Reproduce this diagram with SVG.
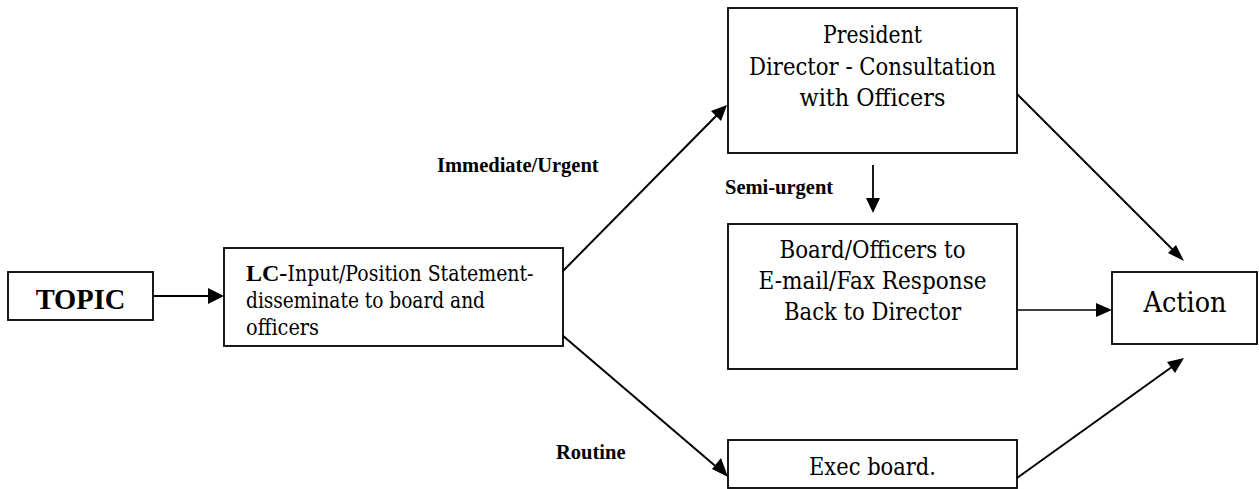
<svg xmlns="http://www.w3.org/2000/svg" width="1259" height="489" viewBox="0 0 1259 489">
<style>
.box{fill:#fff;stroke:#000;stroke-width:1.8}
.r{font-family:"DejaVu Serif","Liberation Serif",serif;fill:#000}
.n{font-size:24px;text-anchor:middle}
.b{font-family:"Liberation Serif","Times New Roman",serif;font-weight:700;fill:#000}
.lbl{font-size:20.5px}
</style>
<rect width="1259" height="489" fill="#fff"/>
<g id="connectors">
<path d="M153,296 L210,296" stroke="#000" stroke-width="1.8"/>
<path d="M208,288 L224,296 L208,304 z"/>
<path d="M562,272 L720,112" stroke="#000" stroke-width="2"/>
<path d="M727,105 L721,121 L711,111 z"/>
<path d="M562,335 L720,470" stroke="#000" stroke-width="2"/>
<path d="M728,477 L712,469 L721,458 z"/>
<path d="M873,165 L873,200" stroke="#000" stroke-width="1.8"/>
<path d="M866,198 L873,213 L880,198 z"/>
<path d="M1017,94 L1176,253" stroke="#000" stroke-width="2"/>
<path d="M1184,261 L1168,253 L1176,245 z"/>
<path d="M1017,310 L1098,310" stroke="#000" stroke-width="1.6"/>
<path d="M1096,303 L1112,310 L1096,317 z"/>
<path d="M1017,478 L1176,364" stroke="#000" stroke-width="2"/>
<path d="M1184,358 L1175,373 L1167,362 z"/>
</g>
<g id="topic">
<rect class="box" x="8" y="272" width="145" height="48"/>
<text class="b" x="80.5" y="309" font-size="28.5" text-anchor="middle">TOPIC</text>
</g>
<g id="lc">
<rect class="box" x="224" y="248" width="339" height="98"/>
<text class="b" x="246" y="281" font-size="24">LC-</text>
<text class="r" x="287.5" y="281" font-size="22" textLength="246" lengthAdjust="spacingAndGlyphs">Input/Position Statement-</text>
<text class="r" x="246" y="308" font-size="22" textLength="239" lengthAdjust="spacingAndGlyphs">disseminate to board and</text>
<text class="r" x="246" y="335" font-size="22" textLength="73" lengthAdjust="spacingAndGlyphs">officers</text>
</g>
<g id="president">
<rect class="box" x="728" y="8" width="289" height="145"/>
<text class="r n" x="872.5" y="43" textLength="99" lengthAdjust="spacingAndGlyphs">President</text>
<text class="r n" x="872.5" y="75" textLength="247" lengthAdjust="spacingAndGlyphs">Director - Consultation</text>
<text class="r n" x="872.5" y="106" textLength="146" lengthAdjust="spacingAndGlyphs">with Officers</text>
</g>
<g id="board">
<rect class="box" x="728" y="224" width="289" height="145"/>
<text class="r n" x="872.5" y="258" textLength="186" lengthAdjust="spacingAndGlyphs">Board/Officers to</text>
<text class="r n" x="872.5" y="289" textLength="228" lengthAdjust="spacingAndGlyphs">E-mail/Fax Response</text>
<text class="r n" x="872.5" y="320" textLength="177" lengthAdjust="spacingAndGlyphs">Back to Director</text>
</g>
<g id="exec">
<rect class="box" x="728" y="440" width="289" height="48"/>
<text class="r n" x="872.5" y="475" textLength="127" lengthAdjust="spacingAndGlyphs">Exec board.</text>
</g>
<g id="action">
<rect class="box" x="1112" y="272" width="145" height="72"/>
<text class="r" x="1185" y="312" font-size="27.5" text-anchor="middle" textLength="83" lengthAdjust="spacingAndGlyphs">Action</text>
</g>
<g id="labels">
<text class="b lbl" x="437" y="172">Immediate/Urgent</text>
<text class="b lbl" x="725" y="194">Semi-urgent</text>
<text class="b lbl" x="556" y="459">Routine</text>
</g>
</svg>
